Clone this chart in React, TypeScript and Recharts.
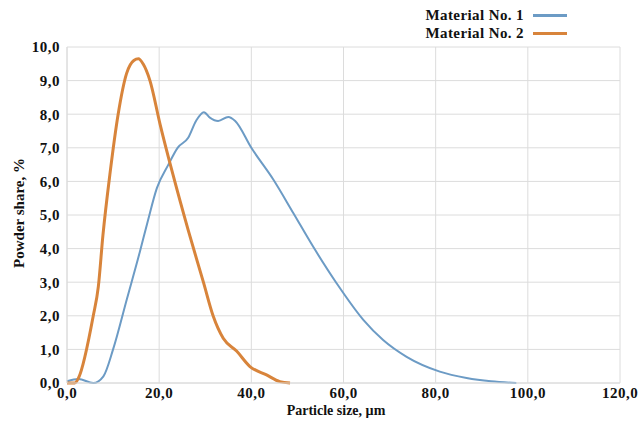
import React from 'react';
import { LineChart, Line, XAxis, YAxis, CartesianGrid } from 'recharts';

// Material No. 1 (blue) - particle size, µm / powder share, %
const m1Size = [0, 2.5, 5.7, 7.9, 10, 13, 15.8, 17.5, 19.5, 22, 24, 26.3, 28, 29.7, 31, 32.8, 35, 36.5, 40, 44.8, 49.1, 53.4, 58.5, 64.3, 68.6, 73.7, 80.9, 86.7, 92, 97.5];
const m1Share = [0.05, 0.12, 0, 0.2, 1.0, 2.5, 3.9, 4.8, 5.8, 6.5, 7.0, 7.3, 7.8, 8.06, 7.9, 7.8, 7.92, 7.8, 7.0, 6.05, 5.06, 4.06, 2.97, 1.88, 1.28, 0.78, 0.34, 0.15, 0.05, 0];

// Material No. 2 (orange)
const m2Size = [0, 1.7, 2.5, 5.7, 6.8, 7.8, 9.3, 11.1, 12.9, 14.5, 15.5, 16.5, 18, 20.2, 23, 26.3, 29.6, 31.7, 33.9, 36.8, 39.7, 43.3, 46.2, 48.4];
const m2Share = [0, 0, 0.15, 2.0, 2.87, 4.4, 6.2, 8.0, 9.2, 9.6, 9.65, 9.5, 9.0, 7.7, 6.2, 4.55, 3.0, 2.0, 1.33, 0.95, 0.49, 0.24, 0.04, 0];

const xTicks = [0, 20, 40, 60, 80, 100, 120];
const yTicks = [0, 1, 2, 3, 4, 5, 6, 7, 8, 9, 10];

const seriesNames = ['Material No. 1', 'Material No. 2'];
const BLUE = '#6C9BC5';
const ORANGE = '#D8843B';
const FONT = '"Liberation Serif", "Times New Roman", serif';

const m1 = m1Size.map((x, i) => ({ x, y: m1Share[i] }));
const m2 = m2Size.map((x, i) => ({ x, y: m2Share[i] }));

const fmt = (v: number) => v.toFixed(1).replace('.', ',');

const tickStyle = { fontFamily: FONT, fontWeight: 700, fontSize: 15, letterSpacing: 0.5, fill: '#111' };

export default function App() {
  return (
    <div style={{ position: 'absolute', left: 0, top: 0, width: 644, height: 421, background: '#fff' }}>
      <LineChart width={644} height={421} data={m1} margin={{ top: 47, right: 24, bottom: 0, left: 0 }}>
        <CartesianGrid stroke="#dcdcdc" strokeWidth={1} />
        <XAxis
          dataKey="x"
          type="number"
          domain={[0, 120]}
          ticks={xTicks}
          tickFormatter={fmt}
          tick={tickStyle}
          tickLine={false}
          tickSize={0}
          tickMargin={4}
          axisLine={{ stroke: '#dcdcdc' }}
          height={38}
        />
        <YAxis
          type="number"
          domain={[0, 10]}
          ticks={yTicks}
          tickFormatter={fmt}
          tick={tickStyle}
          tickLine={false}
          tickSize={0}
          tickMargin={7}
          axisLine={{ stroke: '#dcdcdc' }}
          width={67}
        />
        <Line data={m1} dataKey="y" type="monotone" stroke={BLUE} strokeWidth={2} dot={false} isAnimationActive={false} />
        <Line data={m2} dataKey="y" type="monotone" stroke={ORANGE} strokeWidth={3} dot={false} isAnimationActive={false} />
        <text x={19} y={213} transform="rotate(-90 19 213)" textAnchor="middle" dominantBaseline="central"
          style={{ fontFamily: FONT, fontWeight: 700, fontSize: 15, fill: '#111' }}>
          Powder share, %
        </text>
        <text x={336} y={415} textAnchor="middle"
          style={{ fontFamily: FONT, fontWeight: 700, fontSize: 14, fill: '#111' }}>
          Particle size, µm
        </text>
      </LineChart>
      <div style={{ position: 'absolute', top: 6, left: 400, width: 167, fontFamily: FONT, fontWeight: 700, fontSize: 15, letterSpacing: 0.4, color: '#111' }}>
        {seriesNames.map((name, i) => (
          <div key={name} style={{ display: 'flex', justifyContent: 'flex-end', alignItems: 'center', height: 18.5 }}>
            <span>{name}</span>
            <span style={{ display: 'inline-block', width: 34, height: 3, marginLeft: 9, background: i === 0 ? BLUE : ORANGE }} />
          </div>
        ))}
      </div>
    </div>
  );
}
